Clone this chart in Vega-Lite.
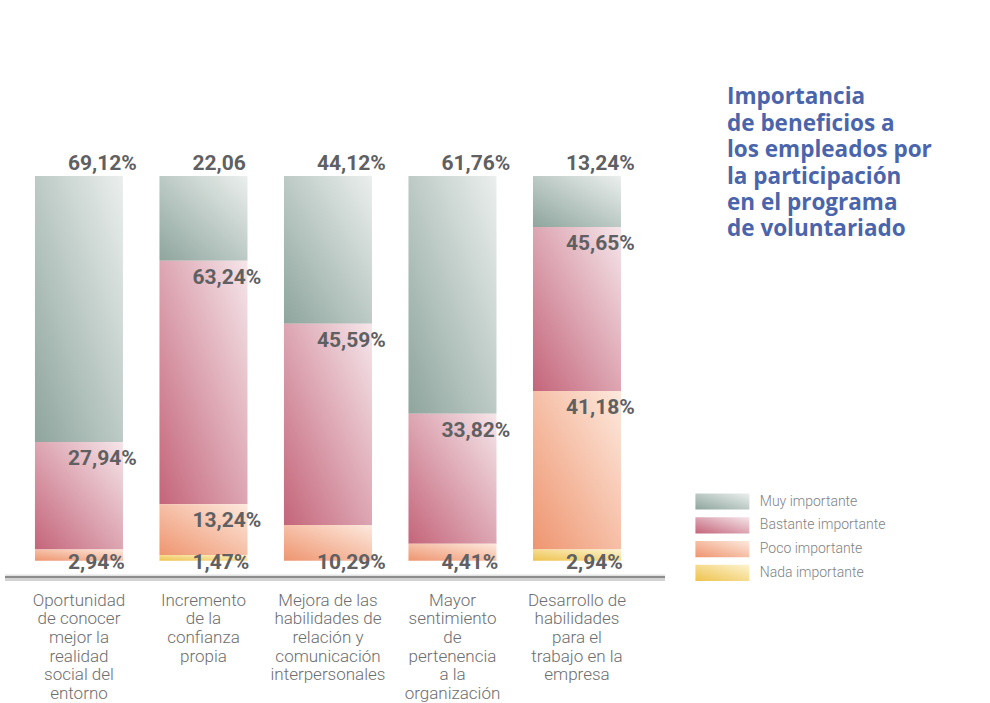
{
  "$schema": "https://vega.github.io/schema/vega-lite/v6.json",
  "width": 660,
  "height": 404,
  "autosize": {"type": "none"},
  "padding": {"left": 5, "top": 176, "right": 325, "bottom": 123},
  "background": "white",
  "config": {"view": {"stroke": null}},
  "title": {
    "text": ["Importancia", "de beneficios a", "los empleados por", "la participación", "en el programa", "de voluntariado"],
    "anchor": "start",
    "frame": "group",
    "orient": "top",
    "baseline": "top",
    "offset": 0,
    "dx": 722,
    "dy": 88,
    "font": "Open Sans",
    "fontSize": 22.5,
    "fontWeight": "bold",
    "color": "#4a65ab",
    "lineHeight": 26.4
  },
  "layer": [
    {
      "data": {"values": [{}]},
      "mark": {"type": "rule", "stroke": "#e2e2e2", "strokeWidth": 1.5},
      "encoding": {"y": {"datum": -3.75}}
    },
    {
      "data": {"values": [{}]},
      "mark": {"type": "rule", "stroke": "#d2d2d2", "strokeWidth": 3},
      "encoding": {"y": {"datum": -4.85}}
    },
    {
      "data": {"values": [{}]},
      "mark": {"type": "rule", "stroke": "#8d8d8d", "strokeWidth": 2},
      "encoding": {"y": {"datum": -4.2}}
    },
    {
      "data": {
        "values": [
          {"benefit": "Oportunidad|de conocer|mejor la|realidad|social del|entorno", "level": "Muy importante", "order": 3, "value": 69.12, "label": "69,12%"},
          {"benefit": "Oportunidad|de conocer|mejor la|realidad|social del|entorno", "level": "Bastante importante", "order": 2, "value": 27.94, "label": "27,94%"},
          {"benefit": "Oportunidad|de conocer|mejor la|realidad|social del|entorno", "level": "Poco importante", "order": 1, "value": 2.94, "label": "2,94%"},
          {"benefit": "Incremento|de la|confianza|propia", "level": "Muy importante", "order": 3, "value": 22.06, "label": "22,06"},
          {"benefit": "Incremento|de la|confianza|propia", "level": "Bastante importante", "order": 2, "value": 63.24, "label": "63,24%"},
          {"benefit": "Incremento|de la|confianza|propia", "level": "Poco importante", "order": 1, "value": 13.24, "label": "13,24%"},
          {"benefit": "Incremento|de la|confianza|propia", "level": "Nada importante", "order": 0, "value": 1.47, "label": "1,47%"},
          {"benefit": "Mejora de las|habilidades de|relación y|comunicación|interpersonales", "level": "Muy importante", "order": 3, "value": 38.4, "label": "44,12%"},
          {"benefit": "Mejora de las|habilidades de|relación y|comunicación|interpersonales", "level": "Bastante importante", "order": 2, "value": 52.3, "label": "45,59%"},
          {"benefit": "Mejora de las|habilidades de|relación y|comunicación|interpersonales", "level": "Poco importante", "order": 1, "value": 9.3, "label": "10,29%"},
          {"benefit": "Mayor|sentimiento|de|pertenencia|a la|organización", "level": "Muy importante", "order": 3, "value": 61.76, "label": "61,76%"},
          {"benefit": "Mayor|sentimiento|de|pertenencia|a la|organización", "level": "Bastante importante", "order": 2, "value": 33.82, "label": "33,82%"},
          {"benefit": "Mayor|sentimiento|de|pertenencia|a la|organización", "level": "Poco importante", "order": 1, "value": 4.41, "label": "4,41%"},
          {"benefit": "Desarrollo de|habilidades|para el|trabajo en la|empresa", "level": "Muy importante", "order": 3, "value": 13.24, "label": "13,24%"},
          {"benefit": "Desarrollo de|habilidades|para el|trabajo en la|empresa", "level": "Bastante importante", "order": 2, "value": 42.65, "label": "45,65%"},
          {"benefit": "Desarrollo de|habilidades|para el|trabajo en la|empresa", "level": "Poco importante", "order": 1, "value": 41.18, "label": "41,18%"},
          {"benefit": "Desarrollo de|habilidades|para el|trabajo en la|empresa", "level": "Nada importante", "order": 0, "value": 2.94, "label": "2,94%"}
        ]
      },
      "transform": [
        {"stack": "value", "groupby": ["benefit"], "sort": [{"field": "order", "order": "ascending"}], "as": ["v0", "v1"]}
      ],
      "encoding": {
        "x": {
          "field": "benefit",
          "type": "nominal",
          "sort": [
            "Oportunidad|de conocer|mejor la|realidad|social del|entorno",
            "Incremento|de la|confianza|propia",
            "Mejora de las|habilidades de|relación y|comunicación|interpersonales",
            "Mayor|sentimiento|de|pertenencia|a la|organización",
            "Desarrollo de|habilidades|para el|trabajo en la|empresa"
          ],
          "scale": {"paddingInner": 0.293, "paddingOuter": 0.297, "align": 0.405},
          "axis": {
            "title": null,
            "domain": false,
            "ticks": false,
            "grid": false,
            "labelAngle": 0,
            "labelExpr": "split(datum.label, '|')",
            "labelFont": "Roboto",
            "labelFontWeight": 300,
            "labelFontSize": 17,
            "labelColor": "#6d6e70",
            "labelLineHeight": 18.7,
            "labelPadding": 12,
            "labelLimit": 0
          }
        }
      },
      "layer": [
        {
          "mark": {"type": "bar"},
          "encoding": {
            "y": {"field": "v1", "type": "quantitative", "scale": {"domain": [-5, 100], "nice": false, "zero": false}, "axis": null},
            "y2": {"field": "v0"},
            "color": {
              "field": "level",
              "type": "nominal",
              "scale": {
                "domain": ["Muy importante", "Bastante importante", "Poco importante", "Nada importante"],
                "range": [
                  {"expr": "{gradient: 'linear', x1: 0, y1: 1, x2: 1, y2: 0, stops: [{offset: 0, color: '#8ea59d'}, {offset: 1, color: '#ebefed'}]}"},
                  {"expr": "{gradient: 'linear', x1: 0, y1: 1, x2: 1, y2: 0, stops: [{offset: 0, color: '#c4657a'}, {offset: 1, color: '#f5e6ea'}]}"},
                  {"expr": "{gradient: 'linear', x1: 0, y1: 1, x2: 1, y2: 0, stops: [{offset: 0, color: '#ee9570'}, {offset: 1, color: '#fde9dd'}]}"},
                  {"expr": "{gradient: 'linear', x1: 0, y1: 1, x2: 1, y2: 0, stops: [{offset: 0, color: '#eec34f'}, {offset: 1, color: '#fdf3cf'}]}"}
                ]
              },
              "legend": {
                "title": null,
                "orient": "none",
                "legendX": 690,
                "legendY": 317,
                "padding": 0,
                "symbolType": "M-1,-1H5.667V1H-1Z",
                "symbolSize": 262,
                "symbolStrokeWidth": 0,
                "labelFont": "Roboto",
                "labelFontSize": 14,
                "labelFontWeight": 300,
                "labelColor": "#808285",
                "labelOffset": 47.8,
                "rowPadding": 6.8
              }
            }
          }
        },
        {
          "transform": [{"filter": "datum.level === 'Muy importante'"}],
          "mark": {"type": "text", "align": "left", "baseline": "middle", "dx": -11, "dy": -12, "font": "Roboto", "fontSize": 21, "fontWeight": "bold", "fill": "#5f6062"},
          "encoding": {
            "y": {"field": "v1", "type": "quantitative"},
            "text": {"field": "label"}
          }
        },
        {
          "transform": [{"filter": "datum.level !== 'Muy importante' && datum.v0 > 0.001"}],
          "mark": {"type": "text", "align": "left", "baseline": "middle", "dx": -11, "dy": 17, "font": "Roboto", "fontSize": 21, "fontWeight": "bold", "fill": "#5f6062"},
          "encoding": {
            "y": {"field": "v1", "type": "quantitative"},
            "text": {"field": "label"}
          }
        },
        {
          "transform": [{"filter": "datum.v0 <= 0.001"}],
          "mark": {"type": "text", "align": "left", "baseline": "middle", "dx": -11, "dy": 2, "font": "Roboto", "fontSize": 21, "fontWeight": "bold", "fill": "#5f6062"},
          "encoding": {
            "y": {"field": "v0", "type": "quantitative"},
            "text": {"field": "label"}
          }
        }
      ]
    }
  ]
}
